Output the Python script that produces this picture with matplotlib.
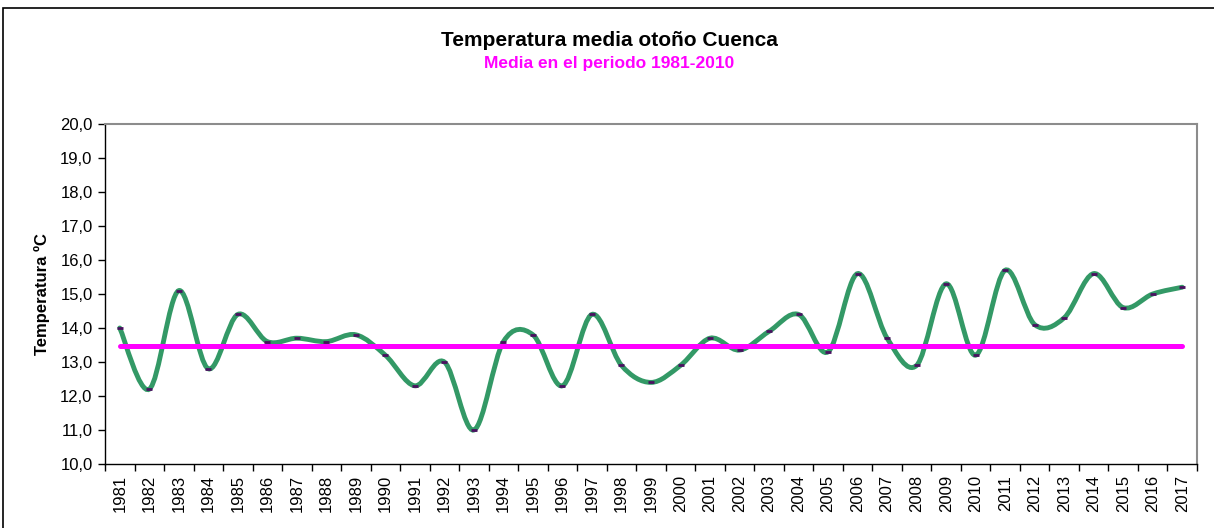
import numpy as np
import matplotlib
matplotlib.use('Agg')
from matplotlib import pyplot as plt
from matplotlib.path import Path
from matplotlib.patches import PathPatch, Rectangle

plt.rcParams['font.family'] = ['Liberation Sans', 'DejaVu Sans']

years = [str(y) for y in range(1981, 2018)]
temp = [14.0, 12.2, 15.1, 12.8, 14.4, 13.6, 13.7, 13.6, 13.8, 13.2,
        12.3, 13.0, 11.0, 13.6, 13.8, 12.3, 14.4, 12.9, 12.4, 12.9,
        13.7, 13.35, 13.9, 14.4, 13.3, 15.6, 13.7, 12.9, 15.3, 13.2,
        15.7, 14.1, 14.3, 15.6, 14.6, 15.0, 15.2]
media = 13.48
yticks = [10, 11, 12, 13, 14, 15, 16, 17, 18, 19, 20]


def smoothPath(x, y):
    """Excel-like smoothed line as cubic bezier segments"""
    pts = np.column_stack([x, y])
    n = len(pts)
    verts = [pts[0]]
    codes = [Path.MOVETO]
    for i in range(n - 1):
        p0 = pts[max(i - 1, 0)]
        p1 = pts[i]
        p2 = pts[i + 1]
        p3 = pts[min(i + 2, n - 1)]
        c1 = p1 + (p2 - p0) / 6.0
        c2 = p2 - (p3 - p1) / 6.0
        verts += [c1, c2, p2]
        codes += [Path.CURVE4] * 3
    return Path(verts, codes)


fig = plt.figure(figsize=(12.14, 5.28), dpi=100)
W, H = 1214, 528
ax = fig.add_axes([105 / W, 1 - 464 / H, (1197 - 105) / W, (464 - 124) / H])

x = np.arange(len(years))
ax.add_patch(PathPatch(smoothPath(x, temp), facecolor='none', edgecolor='#339966',
                       lw=3.5, capstyle='round', zorder=2))
ax.plot(x, temp, linestyle='none', marker='_', markersize=4, mew=2,
        color='#4a1060', zorder=3)
ax.plot([x[0], x[-1]], [media, media], color='#ff00ff', lw=3.6,
        solid_capstyle='round', zorder=4)

ax.set_xlim(-0.5, len(years) - 0.5)
ax.set_ylim(10, 20)
ax.set_yticks(yticks)
ax.set_yticklabels([f"{v:.1f}".replace('.', ',') for v in yticks])
ax.set_xticks(x)
ax.set_xticklabels(years, rotation=90)
ax.set_xticks(np.arange(-0.5, len(years)), minor=True)

ax.tick_params(axis='y', direction='out', length=5, width=1, labelsize=12, pad=4)
ax.tick_params(axis='x', which='major', length=0, labelsize=12, pad=8)
ax.tick_params(axis='x', which='minor', direction='out', length=5, width=1)

for s in ['left', 'bottom']:
    ax.spines[s].set_color('black')
    ax.spines[s].set_linewidth(1.0)
for s in ['top', 'right']:
    ax.spines[s].set_color('#8c8c8c')
    ax.spines[s].set_linewidth(1.5)

ax.set_ylabel('Temperatura ºC', fontsize=12, fontweight='bold', labelpad=7)

fig.text(0.502, 1 - 40 / H, 'Temperatura media otoño Cuenca', ha='center', va='center',
         fontsize=15, fontweight='bold', color='black')
fig.text(0.502, 1 - 63 / H, 'Media en el periodo 1981-2010', ha='center', va='center',
         fontsize=12.5, fontweight='bold', color='#ff00ff')

# outer chart border
fig.add_artist(Rectangle((3 / W, -0.1), 1.2, 1 - 8 / H + 0.1, fill=False,
                         edgecolor='black', lw=1.2, transform=fig.transFigure))

fig.savefig('out.png', dpi=100)
